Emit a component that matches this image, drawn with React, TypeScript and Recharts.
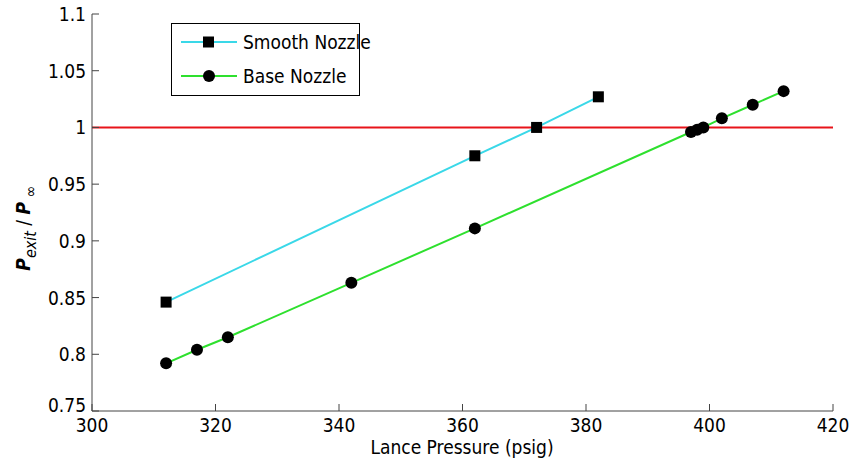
import React from "react";
import { LineChart, Line, XAxis, YAxis, ReferenceLine } from "recharts";

const smoothPressure = [312, 362, 372, 382];
const smoothRatio = [0.846, 0.975, 1.0, 1.027];
const basePressure = [312, 317, 322, 342, 362, 397, 398, 399, 402, 407, 412];
const baseRatio = [0.792, 0.804, 0.815, 0.863, 0.911, 0.996, 0.998, 1.0, 1.008, 1.02, 1.032];
const xTicks = [300, 320, 340, 360, 380, 400, 420];
const yTicks = [0.75, 0.8, 0.85, 0.9, 0.95, 1, 1.05, 1.1];
const yLabels = ["0.75", "0.8", "0.85", "0.9", "0.95", "1", "1.05", "1.1"];
const seriesNames = ["Smooth Nozzle", "Base Nozzle"];

const smoothData = smoothPressure.map((p, i) => ({ p, v: smoothRatio[i] }));
const baseData = basePressure.map((p, i) => ({ p, v: baseRatio[i] }));

const FONT = "'Liberation Sans Narrow', 'DejaVu Sans Condensed', 'Arial Narrow', sans-serif";
const AXIS = "#444";
const TICK_LEN = 7;
const CYAN = "#3ad8e8";
const GREEN = "#2ee02e";

const BottomTick = (props: any) => {
  const { x, y, payload } = props;
  return (
    <g>
      <line x1={x} y1={y} x2={x} y2={y - TICK_LEN} stroke={AXIS} />
      <text x={x} y={y + 21} textAnchor="middle" fontSize={19} fontFamily={FONT} fill="#000">
        {payload.value}
      </text>
    </g>
  );
};

const TopTick = (props: any) => {
  const { x, y } = props;
  return <line x1={x} y1={y} x2={x} y2={y + TICK_LEN} stroke={AXIS} />;
};

const LeftTick = (props: any) => {
  const { x, y, payload } = props;
  const idx = yTicks.findIndex((t) => Math.abs(t - payload.value) < 1e-9);
  const dy = idx === 0 ? 1 : 7;
  return (
    <g>
      <line x1={x} y1={y} x2={x + TICK_LEN} y2={y} stroke={AXIS} />
      <text x={x - 6} y={y + dy} textAnchor="end" fontSize={19} fontFamily={FONT} fill="#000">
        {idx >= 0 ? yLabels[idx] : payload.value}
      </text>
    </g>
  );
};

const RightTick = (props: any) => {
  const { x, y } = props;
  return <line x1={x} y1={y} x2={x - TICK_LEN} y2={y} stroke={AXIS} />;
};

const SquareDot = (props: any) => {
  const { cx, cy, index } = props;
  return <rect key={`sq-${index}`} x={cx - 5.5} y={cy - 5.5} width={11} height={11} fill="#000" />;
};

const CircleDot = (props: any) => {
  const { cx, cy, index } = props;
  return <circle key={`ci-${index}`} cx={cx} cy={cy} r={6} fill="#000" />;
};

export default function App() {
  return (
    <div style={{ position: "absolute", left: 0, top: 0, width: 852, height: 467, background: "#fff" }}>
      <LineChart width={852} height={467} margin={{ top: 14, right: 19, bottom: 0, left: 0 }}>
        <XAxis
          xAxisId={0}
          dataKey="p"
          type="number"
          domain={[300, 420]}
          ticks={xTicks}
          allowDataOverflow
          height={56}
          tickSize={0}
          tickMargin={0}
          tickLine={false}
          tick={<BottomTick />}
          axisLine={{ stroke: AXIS }}
          interval={0}
        />
        <XAxis
          xAxisId="top"
          orientation="top"
          type="number"
          domain={[300, 420]}
          ticks={xTicks}
          allowDataOverflow
          height={0}
          tickSize={0}
          tickMargin={0}
          tickLine={false}
          tick={<TopTick />}
          axisLine={{ stroke: AXIS }}
          interval={0}
        />
        <YAxis
          yAxisId={0}
          type="number"
          domain={[0.75, 1.1]}
          ticks={yTicks}
          allowDataOverflow
          width={92}
          tickSize={0}
          tickMargin={0}
          tickLine={false}
          tick={<LeftTick />}
          axisLine={{ stroke: AXIS }}
          interval={0}
        />
        <YAxis
          yAxisId="right"
          orientation="right"
          type="number"
          domain={[0.75, 1.1]}
          ticks={yTicks}
          allowDataOverflow
          width={0}
          tickSize={0}
          tickMargin={0}
          tickLine={false}
          tick={<RightTick />}
          axisLine={{ stroke: AXIS }}
          interval={0}
        />
        <ReferenceLine y={1} stroke="#e8141a" strokeWidth={2} />
        <Line
          data={smoothData}
          dataKey="v"
          name={seriesNames[0]}
          stroke={CYAN}
          strokeWidth={2}
          dot={<SquareDot />}
          activeDot={false}
          isAnimationActive={false}
        />
        <Line
          data={baseData}
          dataKey="v"
          name={seriesNames[1]}
          stroke={GREEN}
          strokeWidth={2}
          dot={<CircleDot />}
          activeDot={false}
          isAnimationActive={false}
        />

        {/* legend box, drawn in svg so it does not push the plot */}
        <g>
          <rect x={171.5} y={23.5} width={188} height={72} fill="#fff" stroke="#000" />
          <line x1={181} y1={42} x2={237} y2={42} stroke={CYAN} strokeWidth={2} />
          <rect x={203} y={36.5} width={11} height={11} fill="#000" />
          <text x={243} y={49} fontSize={19} fontFamily={FONT} fill="#000">
            {seriesNames[0]}
          </text>
          <line x1={181} y1={76} x2={237} y2={76} stroke={GREEN} strokeWidth={2} />
          <circle cx={209} cy={76} r={6} fill="#000" />
          <text x={243} y={83} fontSize={19} fontFamily={FONT} fill="#000">
            {seriesNames[1]}
          </text>
        </g>

        <text x={462} y={454} textAnchor="middle" fontSize={19} fontFamily={FONT} fill="#000">
          Lance Pressure (psig)
        </text>
        <text
          transform="translate(30, 228) rotate(-90)"
          textAnchor="middle"
          fontSize={19}
          fontFamily={FONT}
          fill="#000"
        >
          <tspan fontStyle="italic" fontWeight="bold">P</tspan>
          <tspan fontStyle="italic" fontSize={16} dy={6}>exit</tspan>
          <tspan dy={-6}> / </tspan>
          <tspan fontStyle="italic" fontWeight="bold">P</tspan>
          <tspan fontSize={16} dy={6}> ∞</tspan>
        </text>
      </LineChart>
    </div>
  );
}
